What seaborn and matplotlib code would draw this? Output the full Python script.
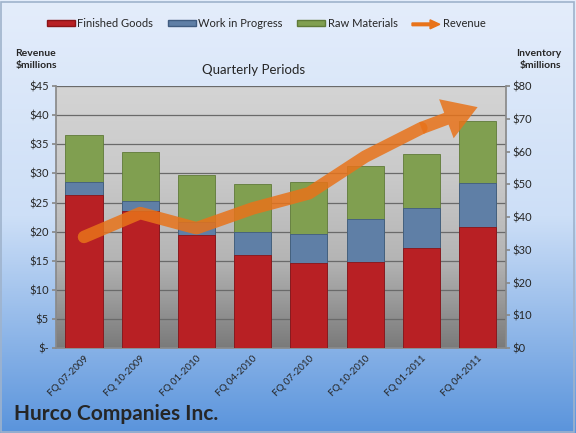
import matplotlib
matplotlib.use("Agg")
import matplotlib.pyplot as plt
import matplotlib.patches as mpatches
from matplotlib.legend_handler import HandlerPatch
from matplotlib.colors import LinearSegmentedColormap
import numpy as np
import pandas as pd
import seaborn as sns

quarters = ['FQ 07-2009', 'FQ 10-2009', 'FQ 01-2010', 'FQ 04-2010',
            'FQ 07-2010', 'FQ 10-2010', 'FQ 01-2011', 'FQ 04-2011']
finished_goods = [46.9, 41.8, 34.4, 28.4, 26.0, 26.3, 30.7, 36.9]
work_in_progress = [3.9, 3.2, 4.2, 7.2, 8.9, 13.0, 12.1, 13.6]
raw_materials = [14.2, 14.8, 14.4, 14.6, 15.7, 16.2, 16.4, 18.9]
revenue = [19.1, 23.2, 20.6, 24.0, 26.6, 32.9, 37.8, 41.4]

rev_ticks = [0, 5, 10, 15, 20, 25, 30, 35, 40, 45]
rev_tick_labels = ['$-', '$5', '$10', '$15', '$20', '$25', '$30', '$35', '$40', '$45']
inv_ticks = [0, 10, 20, 30, 40, 50, 60, 70, 80]
inv_tick_labels = ['$0', '$10', '$20', '$30', '$40', '$50', '$60', '$70', '$80']

RED, BLUE, GREEN, ORANGE = '#b82024', '#5f7fa6', '#809f50', '#e8731a'

sns.set_theme(style="white")
plt.rcParams['font.family'] = ['Lato', 'DejaVu Sans']

df = pd.DataFrame({'quarter': quarters, 'fg': finished_goods,
                   'wip': work_in_progress, 'raw': raw_materials,
                   'revenue': revenue})
df['fg_wip'] = df['fg'] + df['wip']
df['total'] = df['fg_wip'] + df['raw']

fig = plt.figure(figsize=(5.76, 4.33), dpi=100)

# figure background gradient
bg = fig.add_axes([0, 0, 1, 1], zorder=-10)
bg.axis('off')
bg_cmap = LinearSegmentedColormap.from_list('figbg', ['#e4edfb', '#cddff7', '#5a94dc'])
bg.imshow(np.linspace(0, 1, 256).reshape(-1, 1), aspect='auto', cmap=bg_cmap,
          extent=[0, 1, 0, 1])
bg.set_xlim(0, 1)
bg.set_ylim(0, 1)
bg.add_patch(mpatches.Rectangle((0.002, 0.003), 0.995, 0.993, fill=False,
                                edgecolor='#9fb3cc', lw=1.2))

# host axis: revenue scale, grid and plot-area gradient
ax = fig.add_axes([0.097, 0.196, 0.781, 0.605])
ax.set_xlim(-0.5, len(quarters) - 0.5)
ax.set_ylim(0, 45)
pa_cmap = LinearSegmentedColormap.from_list('plotbg', ['#d4d4d4', '#cacaca', '#b4b4b4', '#7a7a7a'])
ax.imshow(np.linspace(0, 1, 256).reshape(-1, 1), aspect='auto', cmap=pa_cmap,
          extent=[-0.5, len(quarters) - 0.5, 0, 45], zorder=0)
ax.set_yticks(rev_ticks)
ax.set_yticklabels(rev_tick_labels, fontsize=8)
ax.yaxis.grid(True, color='#6a6a6a', lw=0.9)
ax.set_axisbelow(True)
for s in ['top', 'right']:
    ax.spines[s].set_visible(False)
ax.spines['left'].set_color('#8a8a8a')
ax.spines['bottom'].set_color('#8a8a8a')
ax.tick_params(axis='y', length=3, color='#8a8a8a', pad=2, left=True)

# bars: inventory scale
ax2 = ax.twinx()
sns.barplot(data=df, x='quarter', y='total', color=GREEN, saturation=1, width=0.66,
            edgecolor='#5f7a38', linewidth=0.6, ax=ax2)
sns.barplot(data=df, x='quarter', y='fg_wip', color=BLUE, saturation=1, width=0.66,
            edgecolor='#405c80', linewidth=0.6, ax=ax2)
sns.barplot(data=df, x='quarter', y='fg', color=RED, saturation=1, width=0.66,
            edgecolor='#8a1417', linewidth=0.6, ax=ax2)
ax2.set_ylim(0, 80)
ax2.set_yticks(inv_ticks)
ax2.set_yticklabels(inv_tick_labels, fontsize=8)
ax2.set_ylabel('')
ax2.set_xlabel('')
for s in ['top', 'left', 'bottom']:
    ax2.spines[s].set_visible(False)
ax2.spines['right'].set_color('#8a8a8a')
ax2.tick_params(axis='y', length=3, color='#8a8a8a', pad=2, right=True)

ax.set_xticks(range(len(quarters)))
ax.set_xticklabels(quarters, rotation=45, ha='right', rotation_mode='anchor', fontsize=7)
ax.tick_params(axis='x', length=0, pad=4)
ax.set_xlim(-0.5, len(quarters) - 0.5)

# revenue line on top
ax3 = ax.twinx()
ax3.set_ylim(0, 45)
ax3.axis('off')
sns.lineplot(x=df.index[:-1], y=df['revenue'][:-1], ax=ax3, color=ORANGE, lw=9,
             alpha=0.85, solid_capstyle='round', solid_joinstyle='round')
ax3.annotate('', xy=(df.index[-1], df['revenue'].iloc[-1]),
             xytext=(df.index[-2], df['revenue'].iloc[-2]),
             arrowprops=dict(arrowstyle='simple,head_width=1.5,head_length=1.2,tail_width=0.45',
                             mutation_scale=20, color=ORANGE, alpha=0.85, lw=0,
                             shrinkA=0, shrinkB=0))
ax3.set_xlim(-0.5, len(quarters) - 0.5)


def make_arrow(legend, orig_handle, xdescent, ydescent, width, height, fontsize):
    return mpatches.FancyArrow(0, 0.5 * height, width, 0, width=0.45 * height,
                               head_width=1.5 * height, head_length=0.35 * width,
                               length_includes_head=True)


handles = [mpatches.Patch(facecolor=RED, edgecolor='#8a1417', label='Finished Goods'),
           mpatches.Patch(facecolor=BLUE, edgecolor='#405c80', label='Work in Progress'),
           mpatches.Patch(facecolor=GREEN, edgecolor='#5f7a38', label='Raw Materials'),
           mpatches.FancyArrow(0, 0, 1, 0, color=ORANGE, label='Revenue')]
fig.legend(handles=handles, loc='center', bbox_to_anchor=(0.462, 0.945), ncol=4,
           frameon=False, fontsize=8, handlelength=2.5, handleheight=0.45,
           columnspacing=1.3, handletextpad=0.25,
           handler_map={mpatches.FancyArrow: HandlerPatch(patch_func=make_arrow)})

fig.text(0.027, 0.862, 'Revenue\n$millions', fontsize=7.5, fontweight='bold',
         ha='left', va='center', linespacing=1.4)
fig.text(0.975, 0.862, 'Inventory\n$millions', fontsize=7.5, fontweight='bold',
         ha='right', va='center', linespacing=1.4, multialignment='right')
fig.text(0.44, 0.838, 'Quarterly Periods', fontsize=9.5, ha='center', va='center')
fig.text(0.025, 0.045, 'Hurco Companies Inc.', fontsize=15, fontweight='bold',
         ha='left', va='center')

fig.savefig('out.png', dpi=100)
